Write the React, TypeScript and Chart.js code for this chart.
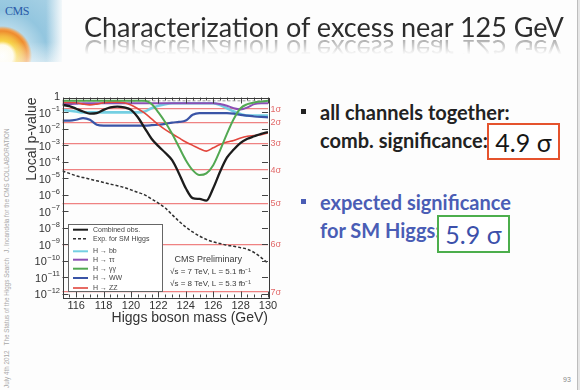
import React, { useEffect, useRef } from "react";
import { Chart, registerables } from "chart.js";

Chart.register(...registerables);

// ---------- data ----------
const masses = [115, 115.5, 116, 116.5, 117, 117.5, 118, 118.5, 119, 119.5, 120, 120.5, 121, 121.5, 122, 122.5, 123, 123.5, 124, 124.5, 125, 125.5, 126, 126.5, 127, 127.5, 128, 128.5, 129, 129.5, 130];

// log10 of the local p-value
const combinedObsLog = [-0.55, -0.62, -0.78, -0.95, -1.08, -1.05, -0.85, -0.7, -0.65, -0.7, -0.85, -1.3, -1.95, -2.6, -3.05, -3.45, -3.9, -4.7, -5.6, -6.2, -6.25, -6.35, -5.6, -4.6, -3.75, -3.25, -2.85, -2.6, -2.45, -2.3, -2.2];
const expectedSMLog = [-4.55, -4.7, -4.85, -4.95, -5.05, -5.15, -5.25, -5.35, -5.45, -5.55, -5.7, -5.85, -6.0, -6.25, -6.5, -6.8, -7.2, -7.6, -7.95, -8.25, -8.5, -8.7, -8.85, -8.95, -9.05, -9.12, -9.2, -9.3, -9.5, -9.8, -10.15];
const bbLog = [-0.85, -0.9, -0.95, -1.0, -1.0, -1.0, -1.0, -1.0, -1.0, -1.0, -1.0, -1.0, -0.95, -0.75, -0.6, -0.5, -0.45, -0.45, -0.45, -0.45, -0.45, -0.45, -0.45, -0.55, -0.75, -0.95, -1.1, -1.2, -1.2, -1.2, -1.2];
const tautauLog = [-0.5, -0.5, -0.48, -0.45, -0.45, -0.45, -0.45, -0.45, -0.45, -0.45, -0.45, -0.45, -0.45, -0.45, -0.45, -0.45, -0.45, -0.45, -0.45, -0.45, -0.45, -0.45, -0.45, -0.5, -0.6, -0.75, -0.82, -0.7, -0.5, -0.45, -0.45];
const gammagammaLog = [-0.3, -0.3, -0.3, -0.3, -0.3, -0.3, -0.3, -0.3, -0.3, -0.3, -0.3, -0.3, -0.3, -0.5, -1.0, -1.6, -2.3, -3.1, -3.9, -4.5, -4.8, -4.7, -4.2, -3.3, -2.3, -1.4, -0.75, -0.5, -0.4, -0.35, -0.3];
const wwLog = [-1.5, -1.5, -1.45, -1.35, -1.45, -1.75, -1.8, -1.8, -1.8, -1.8, -1.8, -1.8, -1.8, -1.78, -1.75, -1.7, -1.62, -1.58, -1.5, -1.15, -1.05, -1.05, -1.05, -1.05, -1.05, -1.08, -1.15, -1.2, -1.25, -1.28, -1.3];
const zzLog = [-0.4, -0.4, -0.42, -0.5, -0.55, -0.5, -0.42, -0.38, -0.38, -0.42, -0.55, -0.78, -1.05, -1.4, -1.75, -2.05, -2.3, -2.55, -2.8, -3.0, -3.2, -3.35, -3.15, -2.95, -2.8, -2.7, -2.55, -2.45, -2.4, -2.35, -2.25];

const referencePLevel = 0.5;
const massRange = [115, 130];
const xTickValues = [116, 118, 120, 122, 124, 126, 128, 130];
const yTickExponents = [0, -1, -2, -3, -4, -5, -6, -7, -8, -9, -10, -11, -12];
const sigmaLevels = [1, 2, 3, 4, 5, 6, 7];
const sigmaPValues = [1.587e-1, 2.275e-2, 1.35e-3, 3.167e-5, 2.867e-7, 9.866e-10, 1.28e-12];
const yLogRange = [-12.2, -0.1];

const seriesLabels = ["Combined obs.", "Exp. for SM Higgs", "H \u2192 bb", "H \u2192 \u03c4\u03c4", "H \u2192 \u03b3\u03b3", "H \u2192 WW", "H \u2192 ZZ"];
const seriesLogs = [combinedObsLog, expectedSMLog, bbLog, tautauLog, gammagammaLog, wwLog, zzLog];
const seriesColors = ["#1c1c1c", "#2f2f2f", "#74cfe2", "#8c4fb5", "#52a852", "#3a54a6", "#e2473e"];
const seriesWidths = [2.3, 1.5, 2.6, 2, 2, 2.2, 1.6];
const seriesDash = [[], [3, 2], [], [], [], [], []];
const seriesOrder = [0, 1, 6, 5, 2, 4, 3];

const FONT = '"Liberation Sans", Arial, Helvetica, sans-serif';

const plotDecor = {
  id: "plotDecor",
  afterDatasetsDraw(chart: any) {
    const { ctx, chartArea: a, scales } = chart;
    ctx.save();
    // tick marks inside the frame
    ctx.strokeStyle = "#444";
    ctx.lineWidth = 1;
    const ys = scales.y;
    yTickExponents.forEach((e) => {
      const py = Math.round(ys.getPixelForValue(Math.pow(10, e))) + 0.5;
      if (py < a.top || py > a.bottom) return;
      ctx.beginPath();
      ctx.moveTo(a.left, py);
      ctx.lineTo(a.left + 6, py);
      ctx.moveTo(a.right, py);
      ctx.lineTo(a.right - 6, py);
      ctx.stroke();
    });
    const xs = scales.x;
    for (let m = massRange[0]; m <= massRange[1]; m += 0.5) {
      const px = Math.round(xs.getPixelForValue(m)) + 0.5;
      const len = m % 2 === 0 ? 6 : 3;
      ctx.beginPath();
      ctx.moveTo(px, a.bottom);
      ctx.lineTo(px, a.bottom - len);
      ctx.moveTo(px, a.top);
      ctx.lineTo(px, a.top + len);
      ctx.stroke();
    }

    // legend box
    const lx = a.left + 5.5;
    const ly = a.top + 126.5;
    const lw = 94;
    const lh = 67;
    ctx.fillStyle = "#ffffff";
    ctx.fillRect(lx, ly, lw, lh);
    ctx.strokeStyle = "#666";
    ctx.lineWidth = 1;
    ctx.strokeRect(Math.round(lx) + 0.5, Math.round(ly) + 0.5, lw, lh);
    const rows = [5.7, 14.7, 27.3, 35.7, 44.7, 54, 64];
    const entries = chart.data.datasets.filter((d: any) => !d.isReference);
    entries.forEach((d: any, i: number) => {
      const y = ly + rows[i];
      ctx.strokeStyle = d.borderColor;
      ctx.lineWidth = Math.min(d.borderWidth, 2);
      ctx.setLineDash(d.borderDash || []);
      ctx.beginPath();
      ctx.moveTo(lx + 5, y);
      ctx.lineTo(lx + 20, y);
      ctx.stroke();
      ctx.setLineDash([]);
      ctx.fillStyle = "#444";
      ctx.font = `7px ${FONT}`;
      ctx.textBaseline = "middle";
      ctx.textAlign = "left";
      ctx.fillText(d.label, lx + 25, y);
    });

    // CMS label
    ctx.fillStyle = "#3a3a3a";
    ctx.textAlign = "center";
    ctx.textBaseline = "middle";
    ctx.font = `9px ${FONT}`;
    ctx.fillText("CMS Preliminary", a.left + 145.8, a.top + 162.2);
    ctx.font = `8px ${FONT}`;
    ctx.fillText("\u221As = 7 TeV, L = 5.1 fb\u207B\u00B9", a.left + 148, a.top + 174.5);
    ctx.fillText("\u221As = 8 TeV, L = 5.3 fb\u207B\u00B9", a.left + 148, a.top + 186);

    // frame
    ctx.strokeStyle = "#3a3a3a";
    ctx.lineWidth = 1;
    ctx.strokeRect(Math.round(a.left) + 0.5, Math.round(a.top) + 0.5, Math.round(a.width), Math.round(a.height));
    ctx.restore();
  },
  afterDraw(chart: any) {
    // y tick labels as "10" with a raised exponent, placed by the y scale
    const { ctx, chartArea: a, scales } = chart;
    const ys = scales.y;
    ctx.save();
    ctx.fillStyle = "#333";
    ctx.textBaseline = "middle";
    ctx.textAlign = "right";
    yTickExponents.forEach((e) => {
      const py = ys.getPixelForValue(Math.pow(10, e));
      const xr = a.left - 2.5;
      if (e === 0) {
        ctx.font = `11px ${FONT}`;
        ctx.fillText("1", xr, py + 1.5);
        return;
      }
      ctx.font = `7.5px ${FONT}`;
      const expText = "\u2212" + String(-e);
      const ew = ctx.measureText(expText).width;
      ctx.fillText(expText, xr, py - 3);
      ctx.font = `11px ${FONT}`;
      ctx.fillText("10", xr - ew - 0.5, py + 1.5);
    });
    ctx.restore();
  },
};

export default function App() {
  const canvasRef = useRef<HTMLCanvasElement>(null);

  useEffect(() => {
    const canvas = canvasRef.current;
    if (!canvas) return;
    const yMin = Math.pow(10, yLogRange[0]);
    const yMax = Math.pow(10, yLogRange[1]);

    const datasets: any[] = seriesLabels.map((label, i) => ({
      label,
      data: masses.map((m, j) => ({ x: m, y: Math.pow(10, seriesLogs[i][j]) })),
      borderColor: seriesColors[i],
      backgroundColor: seriesColors[i],
      borderWidth: seriesWidths[i],
      borderDash: seriesDash[i],
      pointRadius: 0,
      cubicInterpolationMode: "monotone",
      fill: false,
      order: seriesOrder[i],
    }));
    datasets.push({
      label: "",
      isReference: true,
      data: massRange.map((m) => ({ x: m, y: referencePLevel })),
      borderColor: "#9a9a9a",
      borderWidth: 1,
      borderDash: [3, 2],
      pointRadius: 0,
      fill: false,
      order: 9,
    });

    const chart = new Chart(canvas, {
      type: "line",
      data: { datasets },
      plugins: [plotDecor],
      options: {
        animation: false,
        responsive: false,
        devicePixelRatio: 1,
        layout: { padding: { top: 12.5, left: 0, right: 0, bottom: 7.5 } },
        plugins: { legend: { display: false }, tooltip: { enabled: false } },
        scales: {
          x: {
            type: "linear",
            min: massRange[0],
            max: massRange[1],
            afterBuildTicks: (s: any) => {
              s.ticks = xTickValues.map((v) => ({ value: v }));
            },
            afterFit: (s: any) => {
              s.height = 40;
            },
            grid: { display: false, drawTicks: false },
            border: { display: false },
            ticks: {
              autoSkip: false,
              maxRotation: 0,
              padding: 2,
              color: "#333",
              font: { family: FONT, size: 11 },
              callback: (v: any) => String(v),
            },
            title: {
              display: true,
              text: "Higgs boson mass (GeV)",
              align: "end",
              color: "#333",
              font: { family: FONT, size: 14 },
              padding: { top: 0, bottom: 11 },
            },
          },
          y: {
            type: "logarithmic",
            position: "left",
            min: yMin,
            max: yMax,
            afterBuildTicks: (s: any) => {
              s.ticks = yTickExponents.map((e) => ({ value: Math.pow(10, e) }));
            },
            afterFit: (s: any) => {
              s.width = 42.5;
            },
            grid: { display: false, drawTicks: false },
            border: { display: false },
            ticks: { display: false },
            title: {
              display: true,
              text: "Local p-value",
              align: "end",
              color: "#333",
              font: { family: FONT, size: 14 },
              padding: { top: 4, bottom: 0 },
            },
          },
          y2: {
            type: "logarithmic",
            position: "right",
            min: yMin,
            max: yMax,
            afterBuildTicks: (s: any) => {
              s.ticks = sigmaPValues.map((v) => ({ value: v }));
            },
            afterFit: (s: any) => {
              s.width = 22;
            },
            grid: {
              display: true,
              drawOnChartArea: true,
              drawTicks: false,
              color: "rgba(236,108,108,0.85)",
              lineWidth: 1.2,
            },
            border: { display: false },
            ticks: {
              autoSkip: false,
              padding: 2.5,
              color: "#e26a6a",
              font: { family: FONT, size: 9 },
              callback: (_v: any, i: number) => `${sigmaLevels[i]}\u03c3`,
            },
          },
        },
      } as any,
    });
    return () => chart.destroy();
  }, []);

  const lato = 'Lato, "Open Sans", "Liberation Sans", sans-serif';

  return (
    <div
      style={{
        position: "absolute",
        left: 0,
        top: 0,
        width: 580,
        height: 390,
        overflow: "hidden",
        background: "#fdfdfd",
        fontFamily: lato,
      }}
    >
      {/* CMS logo corner */}
      <div
        style={{
          position: "absolute",
          left: 0,
          top: 0,
          width: 62,
          height: 62,
          background:
            "radial-gradient(circle at 2px 56px, #ffffff 0px, #fffbe8 11px, #f8d548 15px, #f4b840 20px, #ee8c2f 25px, #f2a04e 27px, #b5d9ea 30px, #93c6df 46px, #a4cfe4 70px)",
        }}
      />
      <div
        style={{
          position: "absolute",
          left: 0,
          top: 0,
          width: 64,
          height: 80,
          background: "linear-gradient(to bottom, rgba(253,253,253,0) 0px, rgba(253,253,253,0) 42px, rgba(253,253,253,1) 78px)",
        }}
      />
      <div
        style={{
          position: "absolute",
          left: 0,
          top: 0,
          width: 70,
          height: 64,
          background: "linear-gradient(to right, rgba(253,253,253,0) 0px, rgba(253,253,253,0) 46px, rgba(253,253,253,1) 64px)",
        }}
      />
      <div
        style={{
          position: "absolute",
          left: 5,
          top: 4,
          fontFamily: '"Liberation Serif", serif',
          fontSize: 12,
          color: "#2a5aa8",
          letterSpacing: -0.5,
        }}
      >
        CMS
      </div>

      {/* title */}
      <div
        style={{
          position: "absolute",
          left: 84,
          top: 13,
          fontSize: 27,
          lineHeight: "27px",
          color: "#2d2d2d",
          whiteSpace: "nowrap",
          WebkitBoxReflect: "below -3px linear-gradient(transparent 35%, rgba(255,255,255,0.45))",
        } as any}
      >
        Characterization of excess near 125 GeV
      </div>

      {/* vertical footer text on left edge */}
      <div
        style={{
          position: "absolute",
          left: 3,
          top: 388,
          transformOrigin: "left top",
          transform: "rotate(-90deg)",
          fontFamily: FONT,
          fontSize: 6.3,
          color: "#a8a8a8",
          whiteSpace: "nowrap",
        }}
      >
        July 4th 2012 &nbsp; The Status of the Higgs Search &nbsp; J. Incandela for the CMS COLLABORATION
      </div>

      {/* chart */}
      <canvas
        ref={canvasRef}
        width={270}
        height={260}
        style={{ position: "absolute", left: 20, top: 85, width: 270, height: 260 }}
      />

      {/* bullets */}
      <div style={{ position: "absolute", left: 301, top: 109, width: 5, height: 5, background: "#222" }} />
      <div style={{ position: "absolute", left: 320, top: 101, fontSize: 20, lineHeight: "22px", fontWeight: 700, color: "#222", whiteSpace: "nowrap" }}>
        all channels together:
      </div>
      <div style={{ position: "absolute", left: 320, top: 129, fontSize: 20, lineHeight: "22px", fontWeight: 700, color: "#222", whiteSpace: "nowrap" }}>
        comb. significance:
      </div>
      <div
        style={{
          position: "absolute",
          left: 487,
          top: 123,
          width: 73,
          height: 37,
          boxSizing: "border-box",
          border: "2.5px solid #e5532d",
          display: "flex",
          alignItems: "center",
          justifyContent: "center",
          fontSize: 25,
          color: "#151515",
          whiteSpace: "nowrap",
          background: "#fff",
        }}
      >
        4.9 {"\u03c3"}
      </div>

      <div style={{ position: "absolute", left: 301, top: 199, width: 5, height: 5, background: "#4a5db5" }} />
      <div style={{ position: "absolute", left: 320, top: 191, fontSize: 20, lineHeight: "22px", fontWeight: 700, color: "#4a5db5", whiteSpace: "nowrap" }}>
        expected significance
      </div>
      <div style={{ position: "absolute", left: 320, top: 219, fontSize: 20, lineHeight: "22px", fontWeight: 700, color: "#4a5db5", whiteSpace: "nowrap" }}>
        for SM Higgs:
      </div>
      <div
        style={{
          position: "absolute",
          left: 437,
          top: 215,
          width: 73,
          height: 38,
          boxSizing: "border-box",
          border: "2.5px solid #4cae4c",
          display: "flex",
          alignItems: "center",
          justifyContent: "center",
          fontSize: 25,
          color: "#3c50aa",
          whiteSpace: "nowrap",
          background: "#fff",
        }}
      >
        5.9 {"\u03c3"}
      </div>

      {/* right edge and page number */}
      <div style={{ position: "absolute", left: 577, top: 0, width: 1, height: 390, background: "#bdbdbd" }} />
      <div style={{ position: "absolute", left: 578, top: 0, width: 2, height: 390, background: "#e6e6e6" }} />
      <div style={{ position: "absolute", left: 563, top: 376, fontFamily: FONT, fontSize: 7, color: "#888" }}>93</div>
    </div>
  );
}
